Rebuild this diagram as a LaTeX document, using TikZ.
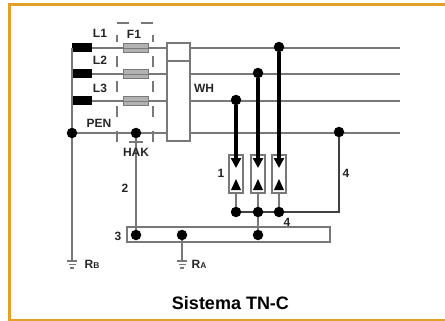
\documentclass[tikz,border=0pt]{standalone}
\usepackage{fontspec}
\setmainfont{Liberation Sans}
\usetikzlibrary{arrows.meta}
\definecolor{frameC}{RGB}{226,160,40}
\definecolor{wireC}{RGB}{120,120,120}
\begin{document}
\begin{tikzpicture}[x=1pt,y=-1pt]
               \tikzstyle{myWire}=[draw=wireC, line width=2pt]
               \tikzstyle{myDot}=[circle, fill=black, inner sep=0pt, minimum size=10.5pt]
               \tikzstyle{myBar}=[fill=black, minimum width=20pt, minimum height=9pt, inner sep=0pt]
               \tikzstyle{myFuse}=[draw=wireC, fill=black!30, line width=1.3pt, minimum width=25pt, minimum height=9pt, inner sep=0pt]
               \tikzstyle{myTxt}=[font=\bfseries\fontsize{12}{12}\selectfont, text=black!85, inner sep=0pt]
               \tikzstyle{mySpd}=[draw=wireC, fill=white, line width=2pt, minimum width=14pt, minimum height=38pt, inner sep=0pt]
               \tikzstyle{myThick}=[draw=black, line width=3.2pt, -{Triangle[length=10pt,width=10pt]}]
               \tikzstyle{myDash}=[draw=wireC, line width=1.4pt, dash pattern=on 11pt off 14pt]

               \useasboundingbox (0,0) rectangle (445,321);
               \fill[white] (0,0) rectangle (445,321);
               \draw[frameC, line width=2.4pt] (445,320) -- (9.5,320) -- (9.5,4.5) -- (445,4.5);

               % ends of the wires
               \coordinate (e1) at (400,48);
               \coordinate (e2) at (400,74);
               \coordinate (e3) at (400,101);
               \coordinate (e4) at (400,133);

               \node[myBar] (b1) at (82,48) {};
               \node[myBar] (b2) at (82,74) {};
               \node[myBar] (b3) at (82,101) {};
               \coordinate (pt) at (72,48);

               \draw[myWire] (b1.east) -- (e1);
               \draw[myWire] (b2.east) -- (e2);
               \draw[myWire] (b3.east) -- (e3);
               \draw[myWire] (72,133) -- (e4);
               \draw[myWire] (pt) -- (72,261);

               \node[myFuse] (f1) at (136,48) {};
               \node[myFuse] (f2) at (136,74) {};
               \node[myFuse] (f3) at (136,101) {};
               \draw[wireC, line width=.8pt] (f1.west) -- (f1.east) (f2.west) -- (f2.east) (f3.west) -- (f3.east);

               % dashed box
               \draw[myDash] (117,142) -- (117,35);
               \draw[myDash] (153,142) -- (153,35);
               \draw[wireC, line width=1.4pt] (117,23) -- (129,23) (141,23) -- (153,23);

               \node[draw=wireC, fill=white, line width=1.6pt, minimum width=23pt, minimum height=98pt, inner sep=0pt] (wh) at (178.5,92) {};
               \draw[wireC, line width=1.6pt] (167,61) -- (190,61);

               % earth bar
               \node[draw=wireC, fill=white, line width=1.8pt, minimum width=203pt, minimum height=15pt, inner sep=0pt] (pa) at (228.5,234.5) {};

               % taps
               \node[mySpd] (s1) at (236,174) {};
               \node[mySpd] (s2) at (258,174) {};
               \node[mySpd] (s3) at (279,174) {};

               \node[myDot] (pe) at (72,133) {};
               \node[myDot] (hk) at (136,133) {};
               \node[myDot] (n4) at (339,132) {};
               \node[myDot] (t1) at (236,100) {};
               \node[myDot] (t2) at (258,73) {};
               \node[myDot] (t3) at (279,47) {};
               \draw[myThick] (t1) -- (236,168);
               \draw[myThick] (t2) -- (258,168);
               \draw[myThick] (t3) -- (279,168);
               \foreach \x in {236,258,279}
                  \fill (\x-5,190) -- (\x+5,190) -- (\x,179) -- cycle;

               \coordinate (j1) at (236,193);
               \coordinate (j2) at (258,193);
               \coordinate (j3) at (279,193);
               \draw[myWire] (j1) -- (236,212);
               \draw[myWire] (j3) -- (279,212);
               \draw[myWire] (j2) -- (258,235);
               \draw[draw=black!75, line width=1.6pt] (236,212) -- (339,212) -- (n4);
               \draw[myWire] (hk) -- (136,235);
               \draw[myWire] (182,235) -- (182,261);
               \draw[wireC, line width=1.4pt] (129,142) -- (143,142);

               \node[myDot] (d1) at (236,212) {};
               \node[myDot] (d2) at (258,212) {};
               \node[myDot] (d3) at (279,212) {};
               \node[myDot] (p1) at (136,235) {};
               \node[myDot] (p2) at (182,235) {};
               \node[myDot] (p3) at (258,235) {};

               % earths
               \coordinate (gb) at (72,261);
               \coordinate (ga) at (182,261);
               \foreach \g in {gb,ga}{
                  \draw[wireC, line width=1.2pt] ([xshift=-5pt]\g) -- ([xshift=5pt]\g);
                  \draw[wireC, line width=1.2pt] ([xshift=-3.5pt,yshift=-3.5pt]\g) -- ([xshift=3.5pt,yshift=-3.5pt]\g);
                  \draw[wireC, line width=1.2pt] ([xshift=-2pt,yshift=-7pt]\g) -- ([xshift=2pt,yshift=-7pt]\g);
               }

               \node[myTxt] (l1) at (100,33) {L1};
               \node[myTxt] (l2) at (100,60) {L2};
               \node[myTxt] (l3) at (100,88) {L3};
               \node[myTxt] (ff) at (134,34) {F1};
               \node[myTxt] (pn) at (99,123) {PEN};
               \node[myTxt] (hh) at (136,152) {HAK};
               \node[myTxt] (wl) at (204,88) {WH};
               \node[myTxt] (n1) at (221,173) {1};
               \node[myTxt] (n5) at (346,173) {4};
               \node[myTxt] (n2) at (125,188) {2};
               \node[myTxt] (n3) at (118,236) {3};
               \node[myTxt] (n6) at (287,222) {4};
               \node[myTxt] (rb) at (92,264) {R\scalebox{.7}{B}};
               \node[myTxt] (ra) at (199,264) {R\scalebox{.7}{A}};
               \node[font=\bfseries\fontsize{18}{18}\selectfont, inner sep=0pt] (tt) at (230.5,303) {Sistema TN-C};
            \end{tikzpicture}
\end{document}
